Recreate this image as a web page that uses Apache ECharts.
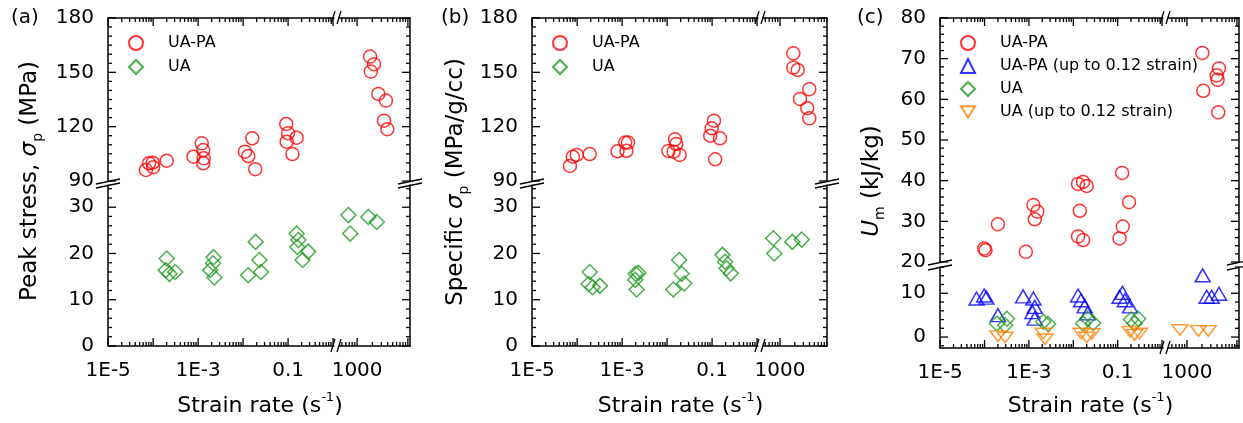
<!DOCTYPE html>
<html><head><meta charset="utf-8">
<script src="https://cdn.jsdelivr.net/npm/echarts@6/dist/echarts.min.js"></script>
<style>html,body{margin:0;padding:0;background:#fff}#c{width:1243px;height:423px}</style>
</head><body><div id="c"></div>
<script>
// ---------------- data ----------------
const xTickValues = [1e-5, 1e-3, 0.1, 1000];
const xTickLabels = ['1E-5', '1E-3', '0.1', '1000'];
const xMajorTicks = [1e-5, 1e-4, 1e-3, 1e-2, 0.1, 1, 10, 100, 1000, 1e4];
const xMinorMult = [2, 3, 4, 5, 6, 7, 8, 9];
const abYUpperTicks = [90, 120, 150, 180];
const abYLowerTicks = [0, 10, 20, 30];
const cYUpperTicks = [20, 30, 40, 50, 60, 70, 80];
const cYLowerTicks = [0, 10];

const aUAPA = [[6.9e-5,96.1],[8.1e-5,99.8],[9.8e-5,100.1],[1.0e-4,97.6],[2.0e-4,101.2],
  [7.9e-4,103.4],[1.2e-3,110.8],[1.3e-3,107.1],[1.33e-3,102.5],[1.3e-3,99.8],
  [0.011,106.2],[0.013,103.8],[0.016,113.6],[0.0186,96.5],
  [0.091,121.5],[0.10,116.4],[0.093,111.7],[0.155,113.9],[0.125,104.9],
  [1800,158.7],[2150,154.5],[1860,150.4],[2620,138.1],[3700,134.4],[3390,123.3],[3930,118.6]];
const aUA = [[2.0e-4,18.9],[1.9e-4,16.4],[2.3e-4,15.6],[3.1e-4,16.0],
  [2.2e-3,19.2],[2.15e-3,17.9],[1.85e-3,16.4],[2.3e-3,14.8],
  [0.013,15.3],[0.019,22.5],[0.023,18.6],[0.025,16.0],
  [0.155,24.3],[0.17,22.9],[0.16,21.4],[0.21,18.6],[0.28,20.4],
  [675,28.3],[730,24.3],[1670,27.9],[2430,26.8]];
const bUAPA = [[6.9e-5,98.3],[8.0e-5,103.4],[9.8e-5,104.4],[1.9e-4,104.9],
  [7.9e-4,106.4],[1.17e-3,111.2],[1.35e-3,111.2],[1.25e-3,106.7],
  [0.0107,106.6],[0.015,113.0],[0.016,110.4],[0.014,106.2],[0.019,104.4],
  [0.11,123.3],[0.098,119.1],[0.091,115.0],[0.15,113.6],[0.117,102.0],
  [1870,160.5],[1870,152.6],[2300,151.3],[2560,135.3],[3960,140.7],[3600,130.2],[3960,124.6]];
const bUA = [[1.9e-4,16.0],[1.8e-4,13.4],[2.2e-4,12.7],[3.2e-4,13.0],
  [2.0e-3,15.6],[1.95e-3,14.3],[2.3e-3,15.8],[2.1e-3,12.2],
  [0.0138,12.2],[0.0186,18.6],[0.021,15.6],[0.024,13.5],
  [0.17,19.7],[0.195,18.2],[0.21,16.8],[0.26,15.7],
  [730,23.3],[765,20.0],[1780,22.5],[2770,23.0]];
const cUAPA = [[9.8e-5,23.3],[1.05e-4,22.9],[2.0e-4,29.3],[8.5e-4,22.5],[1.26e-3,34.0],[1.55e-3,32.4],[1.35e-3,30.5],
  [0.0128,39.2],[0.0166,39.7],[0.020,38.7],[0.014,32.6],[0.0128,26.3],[0.0166,25.4],
  [0.126,41.9],[0.18,34.7],[0.13,28.7],[0.11,25.8],
  [2030,71.4],[4360,67.6],[3930,65.9],[4100,64.8],[2120,62.1],[4230,56.8]];
const cUAPA012 = [[6.6e-5,8.8],[9.8e-5,9.5],[1.1e-4,9.0],[2.0e-4,5.0],
  [7.4e-4,9.3],[1.26e-3,8.8],[1.35e-3,6.9],[1.2e-3,5.7],[1.35e-3,4.2],
  [0.0128,9.5],[0.015,8.4],[0.018,7.0],[0.021,5.4],
  [0.11,9.2],[0.128,10.1],[0.145,8.4],[0.19,7.0],
  [2060,14.1],[2480,9.2],[3120,9.2],[4370,9.9]];
const cUA = [[1.9e-4,3.1],[3.2e-4,4.2],[2.9e-4,2.7],[2.1e-3,3.5],[2.7e-3,3.0],
  [0.0166,3.1],[0.021,4.2],[0.028,3.2],[0.2,4.0],[0.29,4.2],[0.24,3.1]];
const cUA012 = [[2.0e-4,0.2],[2.9e-4,-0.1],[2.1e-3,0.8],[2.3e-3,-0.5],
  [0.015,0.8],[0.026,0.7],[0.02,-0.1],[0.19,1.2],[0.24,0.5],[0.31,0.8],
  [725,1.6],[1690,1.4],[2670,1.4]];

// ---------------- styling / layout ----------------
const F = 'DejaVu Sans';
const SPLIT_X = 100;
const STYLES = {
  'UA-PA': {symbol:'circle', symbolSize:13, color:'#ff0000'},
  'UA-PA (up to 0.12 strain)': {symbol:'triangle', symbolSize:[15,13], color:'#0000ff'},
  'UA': {symbol:'diamond', symbolSize:15, color:'#1f9a1f'},
  'UA (up to 0.12 strain)': {symbol:'path://M0,0L16,0L8,13Z', symbolSize:[16,13], color:'#ff8000'}
};
const PANELS = [
  {L:108,R:410,T:18,B:346,xbL:334,xbR:339,yU:181,yD:185,xl:[9.9e-6,1.05],xr:[440,11000],
   yu:[90,180],yl:[0,34.8],yuT:abYUpperTicks,ylT:abYLowerTicks,yuM:5,ylM:2,
   sets:[['UA-PA',aUAPA,'u'],['UA',aUA,'l']],
   tag:'(a)',tagX:11,yTitle:'{n|Peak stress, }{i|σ}{sub|p}{n| (MPa)}',yTitleX:30,yTitleY:181,
   legend:['UA-PA','UA'],legendGap:8},
  {L:532,R:827,T:18,B:346,xbL:758,xbR:763,yU:181,yD:185,xl:[9.9e-6,1.05],xr:[450,9100],
   yu:[90,180],yl:[0,34.8],yuT:abYUpperTicks,ylT:abYLowerTicks,yuM:5,ylM:2,
   sets:[['UA-PA',bUAPA,'u'],['UA',bUA,'l']],
   tag:'(b)',tagX:441,yTitle:'{n|Specific }{i|σ}{sub|p}{n| (MPa/g/cc)}',yTitleX:456,yTitleY:182,
   legend:['UA-PA','UA'],legendGap:8},
  {L:940,R:1239,T:18,B:348,xbL:1163,xbR:1168,yU:262,yD:267,xl:[9.9e-6,1.05],xr:[417,11000],
   yu:[20,80],yl:[-2.5,16],yuT:cYUpperTicks,ylT:cYLowerTicks,yuM:2,ylM:2,
   sets:[['UA-PA',cUAPA,'u'],['UA-PA (up to 0.12 strain)',cUAPA012,'l'],['UA',cUA,'l'],['UA (up to 0.12 strain)',cUA012,'l']],
   tag:'(c)',tagX:857,yTitle:'{i|U}{sub|m}{n| (kJ/kg)}',yTitleX:872,yTitleY:181,
   legend:['UA-PA','UA-PA (up to 0.12 strain)','UA','UA (up to 0.12 strain)'],legendGap:7}
];

function inRange(v, r){ return v >= r[0] && v <= r[1]; }
function minorLog(r){
  const out = [];
  for (let e = -6; e <= 5; e++) for (const m of xMinorMult) { const v = m * Math.pow(10, e); if (v > r[0] && v < r[1]) out.push(v); }
  return out;
}
function minorLin(r, step, major){
  const out = [];
  for (let k = Math.ceil(r[0] / step - 1e-9); k * step <= r[1] + 1e-9; k++) {
    const v = Math.round(k * step * 1000) / 1000;
    if (major.indexOf(v) < 0) out.push(v);
  }
  return out;
}
function xFmt(v){
  let best = 0, bd = Infinity;
  xTickValues.forEach((t, i) => { const d = Math.abs(Math.log10(v / t)); if (d < bd) { bd = d; best = i; } });
  return xTickLabels[best];
}
const titleRich = {
  n:{fontFamily:F, fontSize:23, lineHeight:30, verticalAlign:'middle', fill:'#000'},
  i:{fontFamily:F, fontSize:23, fontStyle:'italic', lineHeight:30, verticalAlign:'middle', fill:'#000'},
  sub:{fontFamily:F, fontSize:14, lineHeight:14, verticalAlign:'bottom', fill:'#000'},
  sup:{fontFamily:F, fontSize:13, lineHeight:13, verticalAlign:'top', fill:'#000'},
  nx:{fontFamily:F, fontSize:22, lineHeight:30, verticalAlign:'middle', fill:'#000'}
};
function seg(x1, y1, x2, y2){ return {type:'line', silent:true, z:100, shape:{x1:x1, y1:y1, x2:x2, y2:y2}, style:{stroke:'#000', lineWidth:1.3}}; }

const grids = [], xAxes = [], yAxes = [], series = [], legends = [], graphics = [], gridBoxes = [];
PANELS.forEach((P, pi) => {
  for (let k = 0; k < 4; k++) {
    const gi = pi * 4 + k;
    const isTop = k < 2, isLeft = k % 2 === 0;
    const xr = isLeft ? P.xl : P.xr;
    const yr = isTop ? P.yu : P.yl;
    const yT = isTop ? P.yuT : P.ylT;
    const left = isLeft ? P.L : P.xbR, right = isLeft ? P.xbL : P.R;
    const top = isTop ? P.T : P.yD, bottom = isTop ? P.yU : P.B;
    grids.push({left:left, top:top, width:right - left, height:bottom - top});
    gridBoxes.push({gi:gi, isTop:isTop, isLeft:isLeft, xr:xr, yr:yr, yT:yT, yM:isTop ? P.yuM : P.ylM,
      left:left, right:right, top:top, bottom:bottom});
    xAxes.push({type:'log', gridIndex:gi, min:xr[0], max:xr[1], position:isTop ? 'top' : 'bottom',
      axisLine:{show:true, onZero:false, lineStyle:{color:'#000', width:1.5}},
      axisTick:{show:false}, minorTick:{show:false},
      axisLabel:{show:!isTop, margin:15, fontFamily:F, fontSize:20, color:'#000', formatter:xFmt,
        customValues:xTickValues.filter(v => inRange(v, xr))},
      splitLine:{show:false}});
    yAxes.push({type:'value', gridIndex:gi, min:yr[0], max:yr[1], position:isLeft ? 'left' : 'right',
      axisLine:{show:true, onZero:false, lineStyle:{color:'#000', width:1.5}},
      axisTick:{show:false}, minorTick:{show:false},
      axisLabel:{show:isLeft, margin:14, fontFamily:F, fontSize:20, color:'#000', customValues:yT},
      splitLine:{show:false}});
  }
  P.sets.forEach(([name, data, sg]) => {
    const st = STYLES[name];
    [true, false].forEach(leftSeg => {
      const pts = data.filter(d => leftSeg ? d[0] < SPLIT_X : d[0] >= SPLIT_X);
      if (!pts.length) return;
      const gi = pi * 4 + (sg === 'u' ? 0 : 2) + (leftSeg ? 0 : 1);
      series.push({type:'scatter', name:name, xAxisIndex:gi, yAxisIndex:gi, data:pts,
        symbol:st.symbol, symbolSize:st.symbolSize, symbolKeepAspect:true, clip:false,
        itemStyle:{color:'rgba(0,0,0,0)', borderColor:st.color, borderWidth:1.5}, z:3});
    });
  });
  legends.push({data:P.legend, left:P.L + 20, top:35, orient:'vertical', padding:0, itemWidth:14, itemHeight:14,
    itemGap:P.legendGap, selectedMode:false,
    textStyle:{fontFamily:F, fontSize:16, color:'#000', lineHeight:16, padding:[0,0,0,20]}});
  graphics.push({type:'text', x:P.tagX, y:18, silent:true, style:{text:P.tag, fontFamily:F, fontSize:20, fill:'#000', align:'left', verticalAlign:'middle'}});
  graphics.push({type:'text', x:P.yTitleX, y:P.yTitleY, rotation:Math.PI / 2, silent:true,
    style:{text:P.yTitle, rich:titleRich, fontFamily:F, fontSize:23, fill:'#000', align:'center', verticalAlign:'middle'}});
  graphics.push({type:'text', x:(P.L + P.R) / 2 + 1, y:406, silent:true,
    style:{text:'{nx|Strain rate (s}{sup|-1}{nx|)}', rich:titleRich, fontFamily:F, fontSize:22, fill:'#000', align:'center', verticalAlign:'middle'}});
  [P.L, P.R].forEach(x => {
    graphics.push(seg(x - 12, P.yU + 3, x + 12, P.yU - 2));
    graphics.push(seg(x - 12, P.yD + 3, x + 12, P.yD - 2));
  });
  [P.T, P.B].forEach(y => {
    graphics.push(seg(P.xbL - 3, y + 6, P.xbL + 1, y - 7));
    graphics.push(seg(P.xbR - 2, y + 6, P.xbR + 2, y - 7));
  });
});

// tick positions: ask the axis scale first, fall back to the same linear/log mapping the axis uses
function xPix(g, v){
  let p;
  try { p = chart.convertToPixel({xAxisIndex:g.gi}, v); if (Array.isArray(p)) p = p[0]; } catch (e) { p = NaN; }
  if (!isFinite(p) || p < g.left - 1 || p > g.right + 1) {
    const a = Math.log10(g.xr[0]), b = Math.log10(g.xr[1]);
    p = g.left + (Math.log10(v) - a) / (b - a) * (g.right - g.left);
  }
  return p;
}
function yPix(g, v){
  let p;
  try { p = chart.convertToPixel({yAxisIndex:g.gi}, v); if (Array.isArray(p)) p = p[1]; } catch (e) { p = NaN; }
  if (!isFinite(p) || p < g.top - 1 || p > g.bottom + 1) {
    p = g.bottom - (v - g.yr[0]) / (g.yr[1] - g.yr[0]) * (g.bottom - g.top);
  }
  return p;
}

const chart = echarts.init(document.getElementById('c'), null, {renderer:'canvas', width:1243, height:423});
chart.setOption({backgroundColor:'#fff', animation:false,
  grid:grids, xAxis:xAxes, yAxis:yAxes, series:series, legend:legends});

const tickEls = [];
gridBoxes.forEach(g => {
  const xe = g.isTop ? g.top : g.bottom, xd = g.isTop ? 1 : -1;
  const addX = (vals, len) => vals.forEach(v => { const p = xPix(g, v); tickEls.push(seg(p, xe, p, xe + xd * len)); });
  addX(xMajorTicks.filter(v => inRange(v, g.xr)), 8);
  addX(minorLog(g.xr), 4);
  const ye = g.isLeft ? g.left : g.right, yd = g.isLeft ? 1 : -1;
  const addY = (vals, len) => vals.forEach(v => { const p = yPix(g, v); tickEls.push(seg(ye, p, ye + yd * len, p)); });
  addY(g.yT.filter(v => inRange(v, g.yr)), 8);
  addY(minorLin(g.yr, g.yM, g.yT), 4);
});
chart.setOption({graphic:{elements:graphics.concat(tickEls)}});
</script></body></html>
